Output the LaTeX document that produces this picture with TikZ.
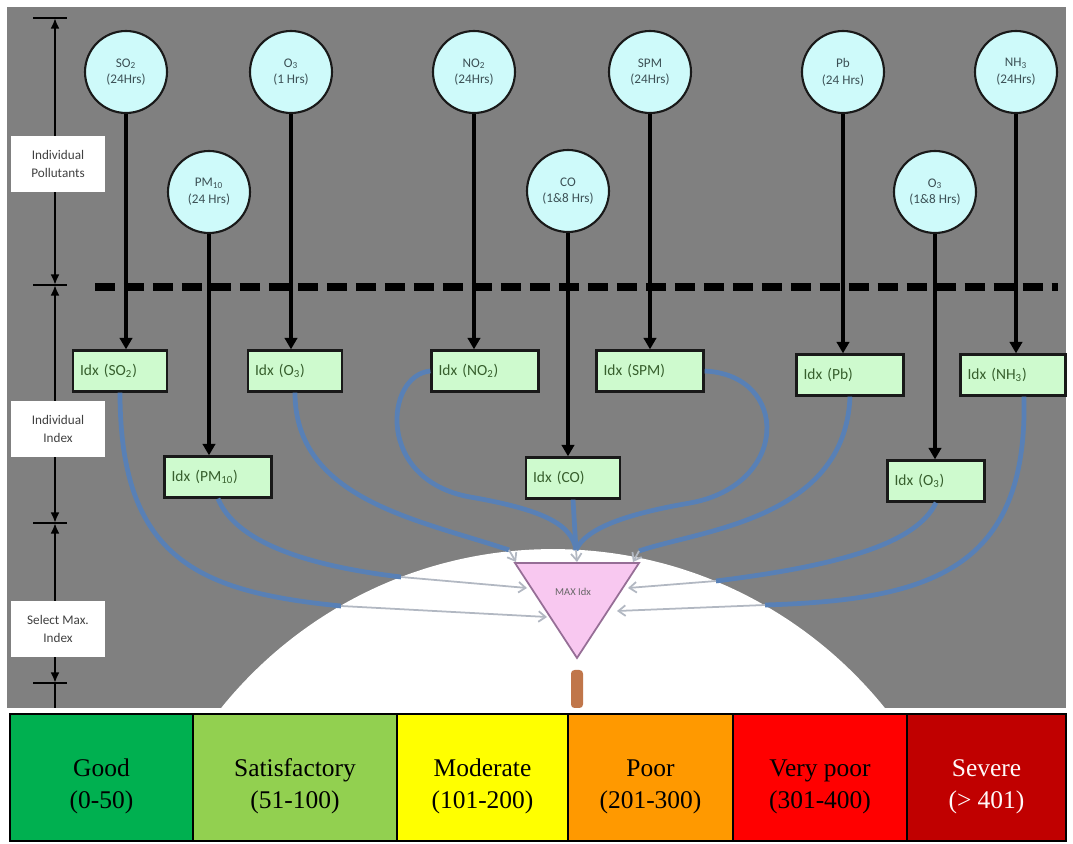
\documentclass[tikz,border=0pt]{standalone}
\usepackage{fontspec}
\setmainfont{Liberation Serif}
\newfontfamily\diagfont{Carlito}
\usepackage{xcolor}
\usepackage{tikz}
\usetikzlibrary{arrows.meta}

\definecolor{bggray}{RGB}{128,128,128}
\definecolor{cyanlight}{RGB}{206,250,250}
\definecolor{greenlight}{RGB}{206,250,206}
\definecolor{tealtext}{RGB}{60,80,85}
\definecolor{greentext}{RGB}{55,95,45}
\definecolor{flowblue}{RGB}{88,128,182}
\definecolor{arrowgray}{RGB}{178,184,194}
\definecolor{tripurple}{RGB}{150,110,150}
\definecolor{pinkfill}{RGB}{248,200,240}
\definecolor{cyantint}{RGB}{205,245,250}
\definecolor{stembrown}{RGB}{192,118,74}
\definecolor{goodgreen}{RGB}{0,176,80}
\definecolor{satgreen}{RGB}{146,208,80}
\definecolor{modyellow}{RGB}{255,255,0}
\definecolor{poororange}{RGB}{255,153,0}
\definecolor{vpoorred}{RGB}{255,0,0}
\definecolor{severered}{RGB}{192,0,0}
\newcommand{\bandstrut}{\rule{0pt}{20pt}}

\begin{document}
\begin{tikzpicture}[x=0.02cm, y=-0.02cm,
    pollutant/.style={circle, draw=black!90, line width=1.2pt, fill=cyanlight, minimum size=1.64cm, inner sep=0pt, align=center, text=tealtext, font=\diagfont\fontsize{7.5}{9.5}\selectfont},
    idxbox/.style={draw=black!90, line width=1.3pt, fill=greenlight, minimum height=0.82cm, text width=#1, inner xsep=0.14cm, align=left, text=greentext, font=\diagfont\fontsize{8.8}{10}\selectfont},
    idxbox/.default=1.6cm,
    feed/.style={line width=2.2pt, -{Triangle[length=6.5pt,width=7pt]}},
    flow/.style={line width=2.7pt, flowblue},
    inflow/.style={line width=1pt, arrowgray, -{Straight Barb[length=4pt,width=6pt]}},
    stage/.style={fill=white, minimum width=1.9cm, minimum height=1.12cm, align=center, text=black!75, font=\diagfont\fontsize{7.5}{10}\selectfont},
    dimline/.style={line width=1.6pt, {Latex[length=6pt,width=5pt]}-{Latex[length=6pt,width=5pt]}},
    band/.style={draw=black, line width=1.6pt, minimum height=2.54cm, inner sep=0pt, align=center, font=\fontsize{14.5}{18.5}\selectfont}]
    \useasboundingbox (0,0) rectangle (1073,844);
    \fill[bggray] (7,7) rectangle (1066,708);
    \begin{scope}
        \clip (7,7) rectangle (1066,708);
        \fill[white] (553,975) circle[radius=8.52cm];
    \end{scope}
    \fill[stembrown, rounded corners=2pt] (571,670) rectangle (583,708);
    \coordinate (mxl) at (515,563);
    \coordinate (mxr) at (639,563);
    \coordinate (mxb) at (577,658);
    \draw[line width=1pt, draw=tripurple, top color=pinkfill, middle color=cyantint, bottom color=pinkfill] (mxl) -- (mxr) -- (mxb) -- cycle;
    \node[font=\diagfont\fontsize{6}{7}\selectfont, text=black!60] (maxlabel) at (573,592) {MAX Idx};
    \draw[line width=4.2pt, dash pattern=on 11.5pt off 5pt] (95,287) -- (1058,287);

    \coordinate (dimtop) at (55,18);
    \coordinate (dimA) at (55,285);
    \coordinate (dimB) at (55,523);
    \coordinate (dimC) at (55,683);
    \coordinate (dimend) at (55,708);
    \draw[dimline] (dimtop) -- (dimA);
    \draw[dimline] (dimA) -- (dimB);
    \draw[dimline] (dimB) -- (dimC);
    \draw[line width=1.6pt] (dimC) -- (dimend);
    \foreach \m in {dimtop,dimA,dimB,dimC}
        \draw[line width=1.6pt] ([xshift=-0.44cm]\m) -- ([xshift=0.24cm]\m);
    \node[stage] (stagepoll) at (58,164) {Individual\\Pollutants};
    \node[stage] (stageidx) at (58,429) {Individual\\Index};
    \node[stage] (stagemax) at (58,629) {Select Max.\\Index};

    \node[pollutant] (so2) at (126,72) {SO\textsubscript{2}\\(24Hrs)};
    \node[pollutant] (o3) at (291,72) {O\textsubscript{3}\\(1 Hrs)};
    \node[pollutant] (no2) at (474,72) {NO\textsubscript{2}\\(24Hrs)};
    \node[pollutant] (spm) at (650,72) {SPM\\(24Hrs)};
    \node[pollutant] (pb) at (843,72) {Pb\\(24 Hrs)};
    \node[pollutant] (nh3) at (1016,72) {NH\textsubscript{3}\\(24Hrs)};
    \node[pollutant] (pm10) at (209,192) {PM\textsubscript{10}\\(24 Hrs)};
    \node[pollutant] (co) at (568,191) {CO\\(1\&8 Hrs)};
    \node[pollutant] (o3b) at (935,192) {O\textsubscript{3}\\(1\&8 Hrs)};

    \node[idxbox] (so2i) at (120,371) {Idx (SO\textsubscript{2})};
    \node[idxbox] (o3i) at (295,371) {Idx (O\textsubscript{3})};
    \node[idxbox=1.86cm] (no2i) at (485,371) {Idx (NO\textsubscript{2})};
    \node[idxbox=1.86cm] (spmi) at (650,371) {Idx (SPM)};
    \node[idxbox=1.86cm] (pbi) at (850,375) {Idx (Pb)};
    \node[idxbox=1.82cm] (nh3i) at (1013,375) {Idx (NH\textsubscript{3})};
    \node[idxbox=1.86cm] (pm10i) at (218,477) {Idx (PM\textsubscript{10})};
    \node[idxbox] (coi) at (573,478) {Idx (CO)};
    \node[idxbox=1.66cm] (o3bi) at (936,481) {Idx (O\textsubscript{3})};

    \foreach \p in {so2,o3,no2,spm,pb,nh3,pm10,co,o3b}
        \draw[feed] (\p.south) -- (\p.south |- \p i.north);

    \coordinate (so2edge) at (341,606);
    \coordinate (pm10edge) at (401,577);
    \coordinate (o3edge) at (509,550);
    \coordinate (topedge) at (576,550);
    \coordinate (pbedge) at (639,551);
    \coordinate (o3bedge) at (716,581);
    \coordinate (nh3edge) at (765,605);
    \coordinate (so2in) at (547,617);
    \coordinate (pm10in) at (527,588);
    \coordinate (o3in) at (516,562);
    \coordinate (topin) at (577,562);
    \coordinate (pbin) at (633,562);
    \coordinate (o3bin) at (628,588);
    \coordinate (nh3in) at (617,611);

    \draw[flow] (so2i.south) .. controls (120,560) and (200,592) .. (so2edge);
    \draw[flow] (pm10i.south) .. controls (235,540) and (300,565) .. (pm10edge);
    \draw[flow] (o3i.south) .. controls (295,500) and (420,520) .. (o3edge);
    \draw[flow] (no2i.west) .. controls (385,375) and (375,480) .. (470,497) .. controls (545,510) and (572,525) .. (topedge);
    \draw[flow] (coi.south) -- (topedge);
    \draw[flow] (spmi.east) .. controls (790,375) and (790,485) .. (690,503) .. controls (620,515) and (585,530) .. (topedge);
    \draw[flow] (pbi.south) .. controls (845,520) and (700,530) .. (pbedge);
    \draw[flow] (o3bi.south) .. controls (915,548) and (820,568) .. (o3bedge);
    \draw[flow] ([xshift=0.22cm]nh3i.south) .. controls (1028,570) and (930,600) .. (nh3edge);

    \draw[inflow] (so2edge) -- (so2in);
    \draw[inflow] (pm10edge) -- (pm10in);
    \draw[inflow] (o3edge) -- (o3in);
    \draw[inflow] (topedge) -- (topin);
    \draw[inflow] (pbedge) -- (pbin);
    \draw[inflow] (o3bedge) -- (o3bin);
    \draw[inflow] (nh3edge) -- (nh3in);

    \node[band, fill=goodgreen, minimum width=3.66cm] (good) at (101.5,777.5) {\bandstrut Good\\(0-50)};
    \node[band, fill=satgreen, minimum width=4.08cm] (satisfactory) at (295,777.5) {\bandstrut Satisfactory\\(51-100)};
    \node[band, fill=modyellow, minimum width=3.42cm] (moderate) at (482.5,777.5) {\bandstrut Moderate\\(101-200)};
    \node[band, fill=poororange, minimum width=3.3cm] (poor) at (650.5,777.5) {\bandstrut Poor\\(201-300)};
    \node[band, fill=vpoorred, minimum width=3.48cm] (verypoor) at (820,777.5) {\bandstrut Very poor\\(301-400)};
    \node[band, fill=severered, minimum width=3.18cm, text=white!90!pink] (severe) at (986.5,777.5) {\bandstrut Severe\\(> 401)};
\end{tikzpicture}
\end{document}
